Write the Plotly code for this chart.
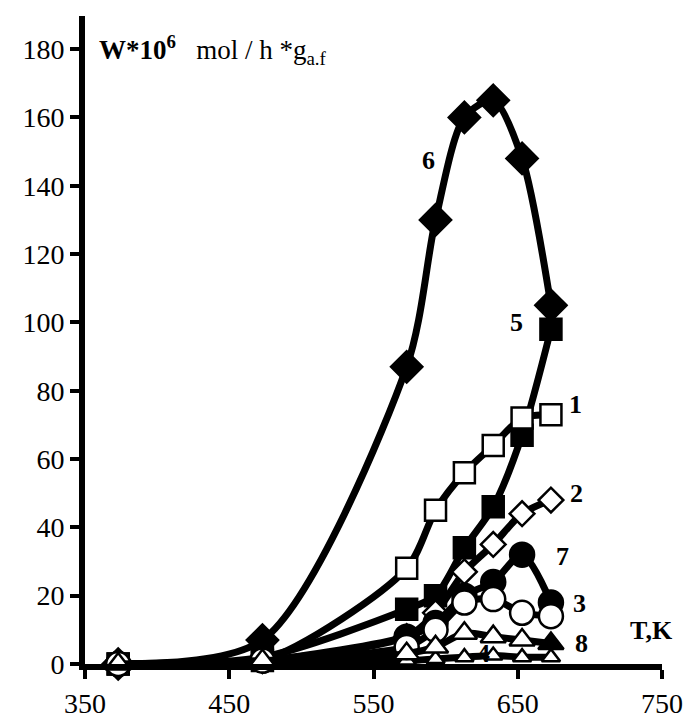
import plotly.graph_objects as go

T = [373, 473, 573, 593, 613, 633, 653, 673]

s1 = [0, 1, 28, 45, 56, 64, 72, 73]        # open squares
s2 = [0, 1, 8, 15, 27, 35, 44, 48]         # open diamonds
s3 = [0, 1, 5, 10, 18, 19, 15, 14]         # open circles
s4 = [0, 0.3, 1, 1.5, 2, 2.5, 2, 2]        # small open triangles
s5 = [0, 2, 16, 20, 34, 46, 67, 98]        # filled squares
s6 = [0, 7, 87, 130, 160, 165, 148, 105]   # filled diamonds
s7 = [0, 1, 8, 12, 20, 24, 32, 18]         # filled circles
s8 = [0, 1, 3, 5, 9, 8, 7, 6]              # triangles

labels = ["1", "2", "3", "4", "5", "6", "7", "8"]
label_T = [690, 691, 693, 626, 649, 588, 681, 694.5]
label_W = [76, 50, 17.6, 3.2, 100, 147.5, 31.6, 6.1]

x_ticks = [350, 450, 550, 650, 750]
y_ticks = [0, 20, 40, 60, 80, 100, 120, 140, 160, 180]

FONT = "Liberation Serif"

fig = go.Figure()

def add(y, symbol, fill, size, outline=2.5):
    fig.add_trace(go.Scatter(
        x=T, y=y, mode="lines+markers",
        line=dict(color="black", width=7, shape="spline", smoothing=0.8),
        marker=dict(symbol=symbol, size=size, color=fill,
                    line=dict(color="black", width=outline)),
        cliponaxis=False, showlegend=False))

add(s4, "triangle-up", "white", 16)
add(s6, "diamond", "black", 24)
add(s5, "square", "black", 21)
add(s1, "square", "white", 21)
add(s2, "diamond", "white", 19)
add(s7, "circle", "black", 24)
add(s3, "circle", "white", 24)
add(s8, "triangle-up", ["white"] * 7 + ["black"], 22)

for lab, lx, ly in zip(labels, label_T, label_W):
    fig.add_annotation(x=lx, y=ly, text="<b>" + lab + "</b>", showarrow=False,
                       font=dict(family=FONT, size=26, color="black"))

fig.add_annotation(x=743, y=9.7, text="<b>T,K</b>", showarrow=False,
                   font=dict(family=FONT, size=26, color="black"))

fig.add_annotation(xref="paper", yref="paper", x=0.021, y=0.948,
                   xanchor="left", yanchor="middle",
                   text="<b>W*10<sup>6</sup></b>&nbsp;&nbsp; mol / h *g<sub>a.f</sub>",
                   showarrow=False,
                   font=dict(family=FONT, size=27, color="black"))

fig.update_layout(
    width=692, height=718,
    margin=dict(l=85, r=30, t=16, b=54, autoexpand=False),
    paper_bgcolor="white", plot_bgcolor="white",
    font=dict(family=FONT, size=28, color="black"),
    xaxis=dict(range=[350, 750], tickvals=x_ticks, showgrid=False, zeroline=False,
               showline=True, linecolor="black", linewidth=6, automargin=False,
               ticks="outside", ticklen=9, tickwidth=4, tickcolor="black",
               tickfont=dict(family=FONT, size=28)),
    yaxis=dict(range=[0, 189.7], tickvals=y_ticks, showgrid=False, zeroline=False,
               showline=True, linecolor="black", linewidth=6, automargin=False,
               ticks="outside", ticklen=9, tickwidth=4, tickcolor="black",
               tickfont=dict(family=FONT, size=28)),
)

fig.write_html("out.html", config={"displayModeBar": False},
               post_script="document.body.style.margin='0';document.body.style.overflow='hidden';")
